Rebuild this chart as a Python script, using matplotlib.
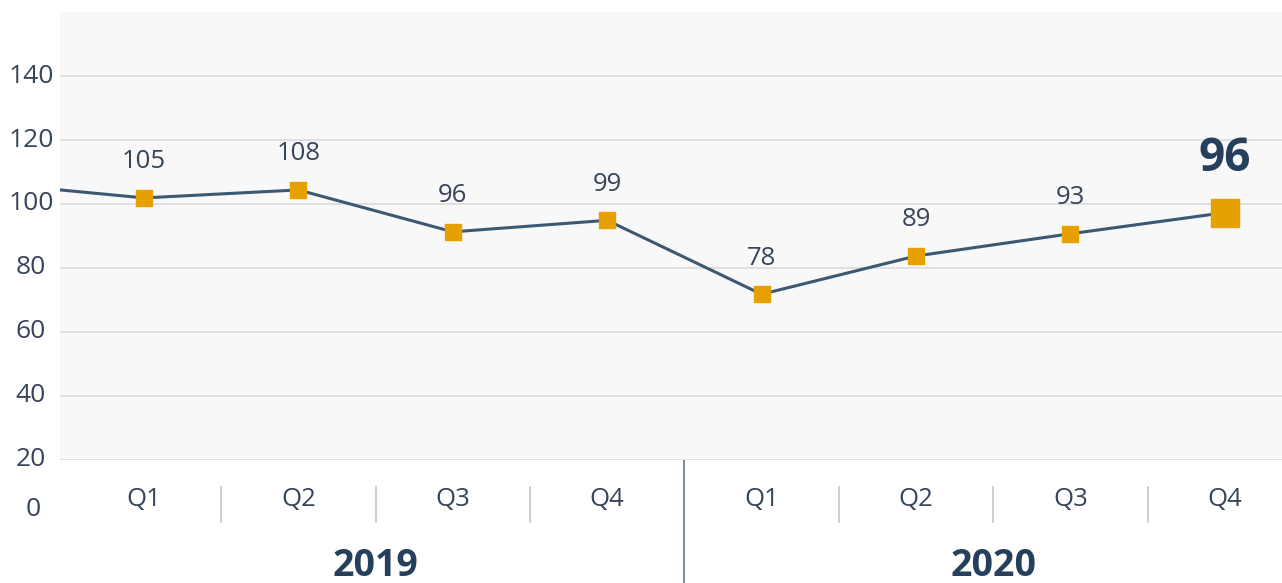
import matplotlib

matplotlib.use("Agg")
import matplotlib.pyplot as plt
from matplotlib.transforms import blended_transform_factory

# data
quarters = ["Q1", "Q2", "Q3", "Q4", "Q1", "Q2", "Q3", "Q4"]
years = ["2019", "2020"]
lead_in = 106.5  # previous quarter, clipped at the left edge
values = [101.9, 104.4, 91.3, 94.9, 71.8, 83.75, 90.7, 97.3]
labels = ["105", "108", "96", "99", "78", "89", "93", "96"]
yticks = [20, 40, 60, 80, 100, 120, 140]

W, H = 1282, 583
plt.rcParams["font.family"] = ["Open Sans", "DejaVu Sans"]

LINE = "#3d5872"
ORANGE = "#e6a100"
TEXT = "#374559"
BOLD = "#253f5d"

fig = plt.figure(figsize=(W / 100, H / 100), dpi=100, facecolor="white")
ax = fig.add_axes([60 / W, 1 - 460 / H, 1222 / W, 448 / H])
ax.set_facecolor("#f8f8f8")
for s in ax.spines.values():
    s.set_visible(False)
ax.set_xticks([])
ax.set_yticks([])

x = list(range(len(values)))
ax.set_xlim(-84 / 154.4, (W - 144) / 154.4)
ax.set_ylim(20, 160)

for v in yticks:
    ax.axhline(v, color="#dadada", lw=1.2, zorder=1)

ax.plot([-1] + x, [lead_in] + values, color=LINE, lw=2.2, zorder=3)
ax.plot(x[:-1], values[:-1], ls="none", marker="s", ms=12, color=ORANGE, zorder=4)
ax.plot(x[-1:], values[-1:], ls="none", marker="s", ms=19.5, color=ORANGE, zorder=4)

for i, (v, lab) in enumerate(zip(values, labels)):
    if i == len(values) - 1:
        ax.annotate(lab, (i, v), xytext=(0, 39), textcoords="offset points",
                    ha="center", va="center", fontsize=33, fontweight="bold",
                    color=BOLD)
    else:
        ax.annotate(lab, (i, v), xytext=(0, 26), textcoords="offset points",
                    ha="center", va="center", fontsize=18.5, color=TEXT)

# y tick labels, centred left of the plot
ytr = blended_transform_factory(fig.transFigure, ax.transData)
for v in yticks:
    ax.text(31 / W, v, str(v), transform=ytr, ha="center", va="center",
            fontsize=19, color=TEXT, clip_on=False)
fig.text(33 / W, 1 - 510 / H, "0", ha="center", va="center",
         fontsize=19, color=TEXT)

# bottom category axis
btr = blended_transform_factory(ax.transData, fig.transFigure)
for i, q in enumerate(quarters):
    ax.text(i, 1 - 500 / H, q, transform=btr, ha="center", va="center",
            fontsize=18.5, color=TEXT, clip_on=False)
for i in range(len(quarters) - 1):
    if i == 3:
        ax.plot([i + 0.5, i + 0.5], [1 - 461 / H, 0], transform=btr,
                color="#7a8898", lw=1.4, clip_on=False)
    else:
        ax.plot([i + 0.5, i + 0.5], [1 - 487 / H, 1 - 522 / H], transform=btr,
                color="#b7c2cd", lw=1.1, clip_on=False)
for k, yr in enumerate(years):
    ax.text(1.5 + 4 * k, 1 - 566 / H, yr, transform=btr, ha="center",
            va="center", fontsize=27, fontweight="bold", color=BOLD,
            clip_on=False)

fig.savefig("out.png", dpi=100, facecolor="white")
